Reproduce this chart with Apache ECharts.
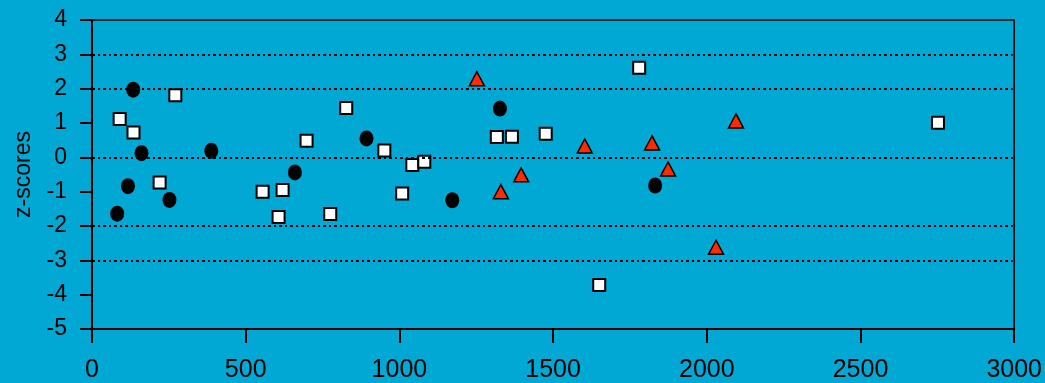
<!DOCTYPE html>
<html>
<head>
<meta charset="utf-8">
<script src="https://cdn.jsdelivr.net/npm/echarts@6/dist/echarts.min.js"></script>
<style>
html,body{margin:0;padding:0;background:#00A8D3;}
#chart{width:1045px;height:383px;}
</style>
</head>
<body>
<div id="chart"></div>
<script>
// Black circles
const circleX = [82, 117, 134, 161, 252, 388, 660, 893, 1172, 1327, 1832];
const circleY = [-1.64, -0.84, 1.97, 0.12, -1.24, 0.19, -0.44, 0.55, -1.25, 1.42, -0.82];
// White squares
const squareX = [90, 135, 220, 271, 555, 607, 620, 698, 775, 827, 951, 1009, 1042, 1081, 1317, 1366, 1476, 1650, 1780, 2752];
const squareY = [1.12, 0.72, -0.73, 1.81, -1.00, -1.74, -0.95, 0.48, -1.65, 1.44, 0.20, -1.05, -0.22, -0.13, 0.59, 0.60, 0.69, -3.72, 2.61, 1.01];
// Red triangles
const triX = [1252, 1330, 1396, 1603, 1822, 1874, 2030, 2095];
const triY = [2.29, -1.00, -0.51, 0.33, 0.42, -0.34, -2.62, 1.06];
// Reference gridlines
const gridLevels = [3, 2, 0, -2, -3];
const xTicks = [0, 500, 1000, 1500, 2000, 2500, 3000];
const yTicks = [4, 3, 2, 1, 0, -1, -2, -3, -4, -5];

const zip = (xs, ys) => xs.map((x, i) => [x, ys[i]]);
const font = "'Liberation Sans', Arial, sans-serif";

const chart = echarts.init(document.getElementById('chart'), null, {renderer: 'canvas'});
chart.setOption({
  backgroundColor: '#00A8D3',
  animation: false,
  grid: {left: 92, right: 29, top: 20, bottom: 54, show: true, borderColor: '#000', borderWidth: 1.5, backgroundColor: 'transparent'},
  xAxis: {
    type: 'value', min: 0, max: 3000, interval: 500,
    axisLine: {show: true, onZero: false, lineStyle: {color: '#000', width: 2}},
    axisTick: {show: true, inside: false, length: 14, lineStyle: {color: '#000', width: 2}},
    axisLabel: {color: '#000', fontSize: 25, fontFamily: font, margin: 29, formatter: v => xTicks.includes(v) ? String(v) : ''},
    splitLine: {show: false}
  },
  yAxis: {
    type: 'value', min: -5, max: 4, interval: 1,
    name: 'z-scores', nameLocation: 'middle', nameGap: 57, nameRotate: 90,
    nameTextStyle: {color: '#000', fontSize: 23, fontFamily: font},
    axisLine: {show: true, onZero: false, lineStyle: {color: '#000', width: 2}},
    axisTick: {show: true, inside: false, length: 12, lineStyle: {color: '#000', width: 2}},
    axisLabel: {color: '#000', fontSize: 23, fontFamily: font, margin: 25, formatter: v => yTicks.includes(v) ? String(v) : ''},
    splitLine: {show: false}
  },
  series: [
    {
      type: 'scatter', data: [], z: 1, silent: true,
      markLine: {
        silent: true, symbol: ['none', 'none'], label: {show: false},
        lineStyle: {color: '#000', width: 2, type: [3, 3, 2, 3]},
        data: gridLevels.map(v => ({yAxis: v}))
      }
    },
    {
      name: 'circles', type: 'scatter', z: 3,
      symbol: 'circle', symbolSize: [14, 16],
      itemStyle: {color: '#000', borderColor: '#000', borderWidth: 0, opacity: 1},
      data: zip(circleX, circleY)
    },
    {
      name: 'squares', type: 'scatter', z: 3,
      symbol: 'rect', symbolSize: 12,
      itemStyle: {color: '#fff', borderColor: '#000', borderWidth: 2, opacity: 1},
      data: zip(squareX, squareY)
    },
    {
      name: 'triangles', type: 'scatter', z: 3,
      symbol: 'triangle', symbolSize: [15, 14],
      itemStyle: {color: '#FF2A00', borderColor: '#000', borderWidth: 1.5, opacity: 1},
      data: zip(triX, triY)
    }
  ]
});
</script>
</body>
</html>
